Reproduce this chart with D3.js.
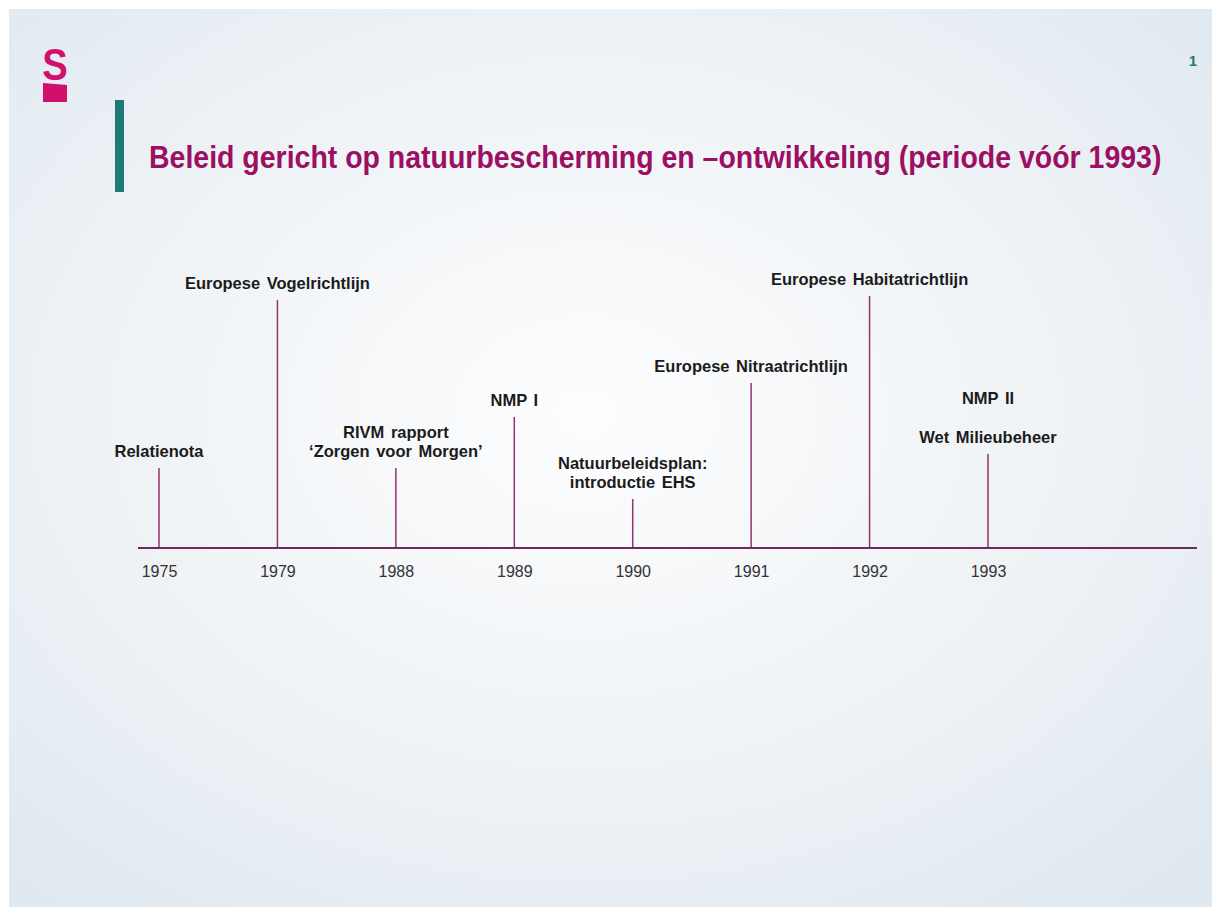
<!DOCTYPE html>
<html>
<head>
<meta charset="utf-8">
<script src="https://cdn.jsdelivr.net/npm/d3@7"></script>
<style>
  html, body { margin: 0; padding: 0; background: #fff; }
  svg { display: block; }
</style>
</head>
<body>
<svg id="slide"></svg>
<script>
const WIDTH = 1216;
const HEIGHT = 909;

const TITLE = "Beleid gericht op natuurbescherming en –ontwikkeling (periode vóór 1993)";
const PAGE_NUMBER = "1";

// one entry per milestone on the timeline
const years = ["1975", "1979", "1988", "1989", "1990", "1991", "1992", "1993"];
const stemHeights = [80, 248, 80, 131, 49, 165, 252, 94];
const labels = [
  ["Relatienota"],
  ["Europese Vogelrichtlijn"],
  ["RIVM rapport", "‘Zorgen voor Morgen’"],
  ["NMP I"],
  ["Natuurbeleidsplan:", "introductie EHS"],
  ["Europese Nitraatrichtlijn"],
  ["Europese Habitatrichtlijn"],
  ["NMP II", "", "Wet Milieubeheer"]
];

const COLORS = {
  title: "#9c0f62",
  accent: "#1f7a77",
  logo: "#d10f6c",
  stem: "#96336f",
  axis: "#6e2a58",
  text: "#1b1b1b",
  tick: "#333"
};

const svg = d3.select("#slide").attr("width", WIDTH).attr("height", HEIGHT);

// slide background
const defs = svg.append("defs");
const grad = defs.append("radialGradient")
  .attr("id", "bg")
  .attr("cx", "48%").attr("cy", "45%").attr("r", "70%");
grad.append("stop").attr("offset", "0%").attr("stop-color", "#fdfdfe");
grad.append("stop").attr("offset", "55%").attr("stop-color", "#eff3f6");
grad.append("stop").attr("offset", "100%").attr("stop-color", "#e0e9f0");

svg.append("rect")
  .attr("x", 9).attr("y", 9)
  .attr("width", 1203).attr("height", 898)
  .attr("fill", "url(#bg)");

// logo: bold S over a block
const logo = svg.append("g").attr("fill", COLORS.logo);
logo.append("text")
  .attr("transform", "translate(55,80) scale(0.85,1)")
  .attr("text-anchor", "middle")
  .style("font-family", "'Liberation Sans', Arial, sans-serif")
  .style("font-weight", "bold")
  .style("font-size", "45px")
  .text("S");
logo.append("path").attr("d", "M43,83 L67,85 L67,102 L43,102 Z");

// accent bar + title
svg.append("rect")
  .attr("x", 115).attr("y", 100)
  .attr("width", 9).attr("height", 92)
  .attr("fill", COLORS.accent);

const title = svg.append("text")
  .attr("fill", COLORS.title)
  .style("font-family", "'Liberation Sans', Arial, sans-serif")
  .style("font-weight", "bold")
  .style("font-size", "31px")
  .text(TITLE);
const titleLen = title.node().getComputedTextLength();
title.attr("transform", `translate(149,168) scale(${1013 / titleLen},1)`);

svg.append("text")
  .attr("x", 1193).attr("y", 66)
  .attr("text-anchor", "middle")
  .attr("fill", COLORS.accent)
  .style("font-family", "'Liberation Sans', Arial, sans-serif")
  .style("font-size", "15px")
  .style("font-weight", "bold")
  .text(PAGE_NUMBER);

// timeline
const x = d3.scalePoint()
  .domain(years)
  .range([159, 988]);
const y = d3.scaleLinear()
  .domain([0, 260])
  .range([548, 288]);

const data = years.map((year, i) => ({ year, height: stemHeights[i], lines: labels[i] }));

const chart = svg.append("g").attr("class", "timeline");

chart.selectAll("line.stem")
  .data(data)
  .join("line")
  .attr("class", "stem")
  .attr("x1", d => x(d.year))
  .attr("x2", d => x(d.year))
  .attr("y1", y(0))
  .attr("y2", d => y(d.height))
  .attr("stroke", COLORS.stem)
  .attr("stroke-width", 1.5);

const axis = chart.append("g")
  .attr("transform", `translate(0,${y(0)})`)
  .call(d3.axisBottom(x).tickSize(0).tickPadding(18));
axis.select(".domain").remove();
axis.selectAll(".tick text")
  .attr("fill", COLORS.tick)
  .style("font-family", "'Liberation Sans', Arial, sans-serif")
  .style("font-size", "16px");

chart.append("line")
  .attr("x1", 138).attr("x2", 1197)
  .attr("y1", y(0)).attr("y2", y(0))
  .attr("stroke", COLORS.axis)
  .attr("stroke-width", 2);

const LINE_GAP = 19.5;
chart.selectAll("text.label")
  .data(data)
  .join("text")
  .attr("class", "label")
  .attr("text-anchor", "middle")
  .attr("fill", COLORS.text)
  .style("font-family", "'Liberation Sans', Arial, sans-serif")
  .style("font-weight", "bold")
  .style("font-size", "16.5px")
  .style("word-spacing", "2px")
  .each(function(d) {
    const base = y(d.height) - 11 - (d.lines.length - 1) * LINE_GAP;
    d3.select(this).selectAll("tspan")
      .data(d.lines)
      .join("tspan")
      .attr("x", x(d.year))
      .attr("y", (_, i) => base + i * LINE_GAP)
      .text(t => t);
  });
</script>
</body>
</html>
